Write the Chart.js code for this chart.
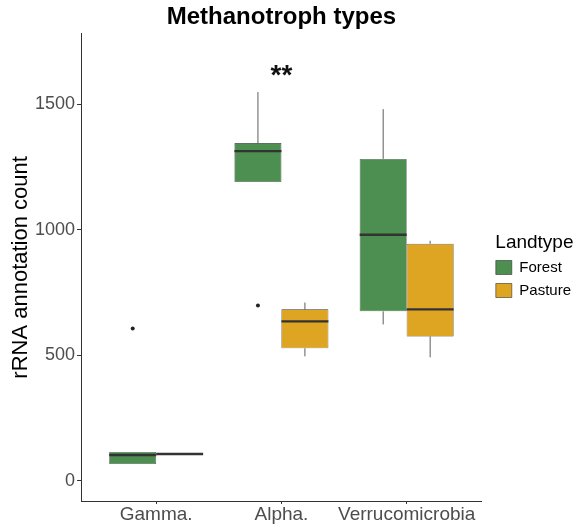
<!DOCTYPE html>
<html>
<head>
<meta charset="utf-8">
<script src="https://cdn.jsdelivr.net/npm/chart.js@4/dist/chart.umd.min.js"></script>
<style>
  body { margin: 0; background: #fff; }
  canvas { display: block; }
</style>
</head>
<body>
<canvas id="boxChart" width="581" height="526"></canvas>
<script>
// kategorier och värden lästa från bilden
const categories = ['Gamma.', 'Alpha.', 'Verrucomicrobia']
const yTicks = [0, 500, 1000, 1500]

const forestLow = [67, 1190, 623]
const forestQ1 = [67, 1190, 675]
const forestMedian = [103, 1313, 980]
const forestQ3 = [115, 1345, 1282]
const forestHigh = [115, 1548, 1480]
const forestOutliers = [[607], [698], []]

const pastureLow = [107, 496, 492]
const pastureQ1 = [107, 528, 575]
const pastureMedian = [107, 635, 683]
const pastureQ3 = [107, 683, 944]
const pastureHigh = [107, 710, 956]
const pastureOutliers = [[], [], []]

const starLabel = '**'
const starPos = [2, 1627]

const boxStats = [
  { low: forestLow, median: forestMedian, high: forestHigh, q1: forestQ1, q3: forestQ3, out: forestOutliers },
  { low: pastureLow, median: pastureMedian, high: pastureHigh, q1: pastureQ1, q3: pastureQ3, out: pastureOutliers },
]

const fontFam = '"Liberation Sans", Arial, sans-serif'

function boxData(q1, q3) {
  let arr = []
  for (let i = 0; i < categories.length; i++) {
    arr.push({ x: i + 1, y: [q1[i], q3[i]] })
  }
  return arr
}

// ritar morrhår, median, avvikare och stjärnorna
const boxPlugin = {
  id: 'boxExtras',
  afterDatasetsDraw(chart) {
    let ctx = chart.ctx
    let y = chart.scales.y
    let x = chart.scales.x
    ctx.save()
    for (let d = 0; d < boxStats.length; d++) {
      let meta = chart.getDatasetMeta(d)
      let s = boxStats[d]
      meta.data.forEach((bar, i) => {
        let cx = bar.x
        let half = bar.width / 2
        ctx.strokeStyle = '#333333'
        ctx.lineWidth = 0.8
        ctx.beginPath()
        ctx.moveTo(cx, y.getPixelForValue(s.q3[i]))
        ctx.lineTo(cx, y.getPixelForValue(s.high[i]))
        ctx.moveTo(cx, y.getPixelForValue(s.q1[i]))
        ctx.lineTo(cx, y.getPixelForValue(s.low[i]))
        ctx.stroke()
        ctx.lineWidth = 2.4
        ctx.beginPath()
        let my = y.getPixelForValue(s.median[i])
        ctx.moveTo(cx - half, my)
        ctx.lineTo(cx + half, my)
        ctx.stroke()
        ctx.fillStyle = '#222222'
        s.out[i].forEach((v) => {
          ctx.beginPath()
          ctx.arc(cx, y.getPixelForValue(v), 2, 0, Math.PI * 2)
          ctx.fill()
        })
      })
    }
    ctx.fillStyle = '#111111'
    ctx.font = 'bold 28px ' + fontFam
    ctx.textAlign = 'center'
    ctx.textBaseline = 'middle'
    ctx.fillText(starLabel, x.getPixelForValue(starPos[0]), y.getPixelForValue(starPos[1]) + 4)
    ctx.restore()
  },
}

new Chart(document.getElementById('boxChart'), {
  type: 'bar',
  data: {
    datasets: [
      {
        label: 'Forest',
        data: boxData(forestQ1, forestQ3),
        backgroundColor: '#4c8f50',
        borderColor: '#333333',
        borderWidth: 0.6,
        borderSkipped: false,
      },
      {
        label: 'Pasture',
        data: boxData(pastureQ1, pastureQ3),
        backgroundColor: '#dea523',
        borderColor: '#333333',
        borderWidth: 0.6,
        borderSkipped: false,
      },
    ],
  },
  options: {
    responsive: false,
    animation: false,
    categoryPercentage: 0.75,
    barPercentage: 1,
    layout: { padding: { top: 0, right: 0, left: 10, bottom: 1 } },
    plugins: {
      title: {
        display: true,
        fullSize: false,
        text: 'Methanotroph types',
        color: '#000',
        font: { family: fontFam, size: 24, weight: 'bold' },
        padding: { top: 3, bottom: 2 },
      },
      legend: {
        position: 'right',
        title: {
          display: true,
          text: 'Landtype',
          color: '#000',
          font: { family: fontFam, size: 19, lineHeight: 1 },
          padding: { top: 14, bottom: 0 },
        },
        labels: {
          color: '#000',
          boxWidth: 16,
          boxHeight: 14,
          padding: 8,
          font: { family: fontFam, size: 15 },
        },
      },
      tooltip: { enabled: false },
    },
    scales: {
      x: {
        type: 'linear',
        offset: false,
        min: 0.4,
        max: 3.6,
        afterBuildTicks: (axis) => {
          axis.ticks = categories.map((c, i) => ({ value: i + 1 }))
        },
        ticks: {
          color: '#4d4d4d',
          font: { family: fontFam, size: 19, lineHeight: 1 },
          padding: 1,
          autoSkip: false,
          maxRotation: 0,
          callback: (v) => categories[v - 1],
        },
        grid: { display: true, offset: false, drawOnChartArea: false, tickLength: 3, color: '#333333' },
        border: { color: '#333333', width: 1 },
      },
      y: {
        min: -80,
        max: 1780,
        afterBuildTicks: (axis) => {
          axis.ticks = yTicks.map((v) => ({ value: v }))
        },
        ticks: {
          color: '#4d4d4d',
          font: { family: fontFam, size: 18 },
          padding: 2,
          callback: (v) => String(v),
        },
        grid: { display: true, drawOnChartArea: false, tickLength: 4, color: '#333333' },
        border: { color: '#333333', width: 1 },
        title: {
          display: true,
          text: 'rRNA annotation count',
          color: '#000',
          font: { family: fontFam, size: 22, lineHeight: 1 },
          padding: { top: 0, bottom: 1 },
        },
      },
      // tom axel som ger luft mellan plottytan och legenden
      gap: {
        position: 'right',
        display: true,
        ticks: { display: false },
        grid: { display: false },
        border: { display: false },
        afterFit: (axis) => {
          axis.width = 6
        },
      },
    },
  },
  plugins: [boxPlugin],
})
</script>
</body>
</html>
